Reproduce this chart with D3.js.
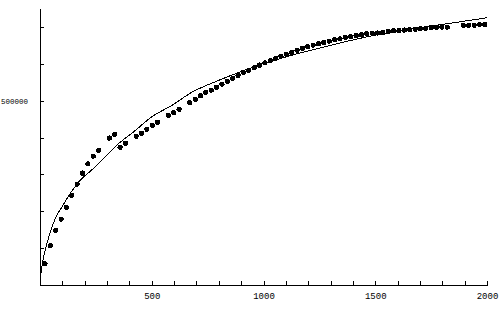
<!DOCTYPE html>
<html lang="en">
<head>
    <meta charset="utf-8" />
    <title></title>
    <script src="https://d3js.org/d3.v7.min.js"></script>
    <style>
        body { margin: 0; background: #fff; }
        svg { display: block; }
        .axis text { font-family: "Liberation Mono", "DejaVu Sans Mono", monospace; fill: #000; }
        .axis path, .axis line { stroke: #000; stroke-width: 1; }
    </style>
</head>
<body>
    <div id="chart"></div>
    <script>
        const width = 500, height = 309;

        // measured points
        const dataX = [20, 44, 68, 92, 116, 140, 164, 188, 212, 236, 260,
            308, 332, 356, 380, 428, 452, 476, 500, 524, 572, 596, 620,
            668, 692, 716, 740, 764, 788, 812, 836, 860, 884, 908, 932, 956, 980,
            1004, 1028, 1052, 1076, 1100, 1124, 1148, 1172, 1196, 1220, 1244, 1268,
            1292, 1316, 1340, 1364, 1388, 1412, 1436, 1460, 1484, 1508, 1532, 1556,
            1580, 1604, 1628, 1652, 1676, 1700, 1724, 1748, 1772, 1796, 1820,
            1892, 1916, 1940, 1964, 1988];
        const dataY = [59000, 108000, 150000, 180000, 212000, 245000, 275000, 305000, 330000, 351000, 367000,
            400000, 410000, 375000, 386000, 405000, 413000, 424000, 435000, 443000, 462000, 469000, 478000,
            496000, 505000, 515000, 524000, 530000, 538000, 546000, 554000, 562000, 570000, 578000, 584000, 591000, 598000,
            604000, 610000, 616000, 622000, 627000, 632000, 638000, 644000, 648000, 652000, 656000, 659000,
            663000, 667000, 669000, 673000, 675000, 678000, 680000, 683000, 684000, 685000, 686000, 689000,
            691000, 692000, 693000, 694000, 695000, 697000, 698000, 700000, 701000, 701000, 701000,
            706000, 706000, 706000, 708000, 708000];

        // fitted curve
        const fitX = [0, 4.5, 16.6, 31.4, 53.8, 76, 98.7, 121, 151, 181, 248, 345, 420, 502, 592,
            683, 803, 982, 1131, 1281, 1430, 1580, 1730, 1879, 2000];
        const fitY = [0, 31700, 77000, 113000, 158000, 190000, 212000, 235000, 262000, 285000, 321000,
            380000, 416000, 457000, 488000, 524000, 556000, 597000, 624000, 647000, 669000, 687000,
            701000, 714000, 725000];

        const xTicks = d3.range(100, 2001, 100);
        const xLabels = [500, 1000, 1500, 2000];
        const yTicks = [100000, 200000, 300000, 400000, 500000, 600000, 700000];
        const yLabels = [500000];

        const x = d3.scaleLinear().domain([0, 2000]).range([40, 487]);
        const y = d3.scaleLinear().domain([0, 751500]).range([285, 8]);

        const svg = d3.select("#chart").append("svg")
            .attr("width", width)
            .attr("height", height)
            .attr("shape-rendering", "crispEdges");

        // x axis, ticks pointing up
        const xAxis = d3.axisBottom(x)
            .tickValues(xTicks)
            .tickSizeInner(-4)
            .tickSizeOuter(0)
            .tickPadding(8)
            .tickFormat(d => xLabels.includes(d) ? d : "");
        svg.append("g")
            .attr("class", "axis")
            .attr("transform", "translate(0,285)")
            .call(xAxis)
            .selectAll("text")
                .attr("font-size", 9);

        // y axis, ticks pointing right
        const yAxis = d3.axisLeft(y)
            .tickValues(yTicks)
            .tickSizeInner(-4)
            .tickSizeOuter(0)
            .tickPadding(12)
            .tickFormat(d => yLabels.includes(d) ? d : "");
        svg.append("g")
            .attr("class", "axis")
            .attr("transform", "translate(40,0)")
            .call(yAxis)
            .selectAll("text")
                .attr("font-size", 7.5);

        // fitted curve
        const line = d3.line()
            .x((d, i) => x(fitX[i]))
            .y((d, i) => y(fitY[i]))
            .curve(d3.curveCatmullRom.alpha(0.5));
        svg.append("path")
            .datum(fitX)
            .attr("fill", "none")
            .attr("stroke", "#000")
            .attr("stroke-width", 1)
            .attr("d", line);

        // points
        svg.selectAll("circle.pt")
            .data(dataX)
            .enter()
                .append("circle")
                .attr("class", "pt")
                .attr("cx", (d, i) => x(d) + 0.5)
                .attr("cy", (d, i) => y(dataY[i]) + 0.5)
                .attr("r", 2.6)
                .attr("fill", "#000");
    </script>
</body>
</html>
